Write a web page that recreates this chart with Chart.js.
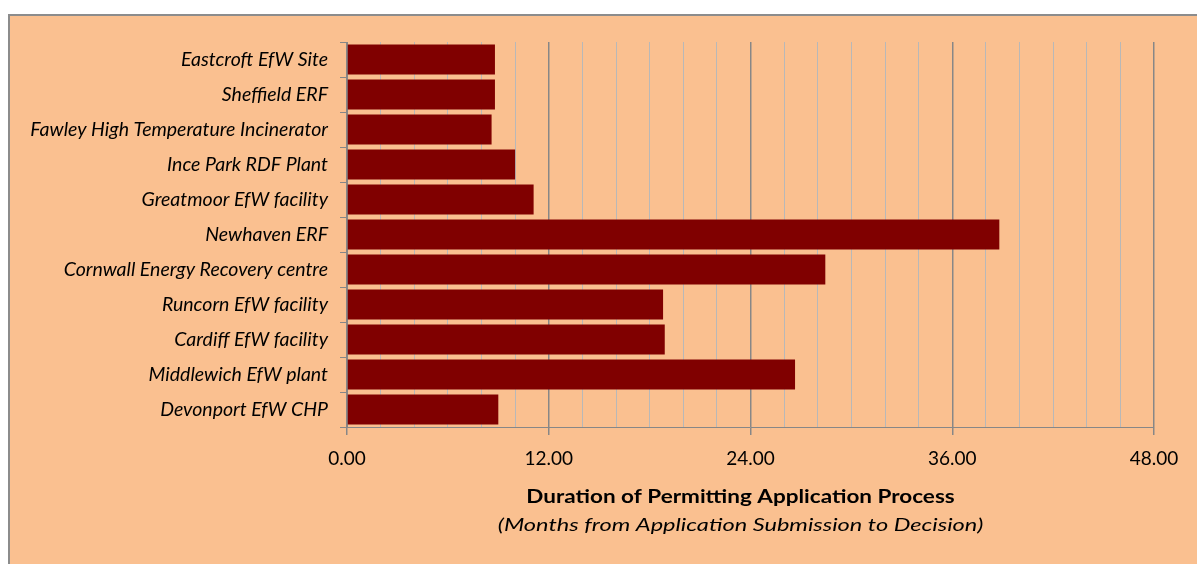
<!DOCTYPE html>
<html>
<head>
<meta charset="utf-8">
<script src="https://cdn.jsdelivr.net/npm/chart.js@4/dist/chart.umd.min.js"></script>
<style>
  html, body { margin: 0; padding: 0; background: #fff; overflow: hidden; }
  #frame {
    position: absolute; left: 8px; top: 14px; width: 1187px; height: 548px;
    border-left: 2px solid #8c8c8c; border-top: 2px solid #8c8c8c;
    background: #fac090;
  }
  #frame canvas { display: block; }
</style>
</head>
<body>
<div id="frame"><canvas id="c" width="1187" height="548"></canvas></div>
<script>
  // permitting duration per facility, months
  var facilities = [
    'Eastcroft EfW Site', 'Sheffield ERF', 'Fawley High Temperature Incinerator',
    'Ince Park RDF Plant', 'Greatmoor EfW facility', 'Newhaven ERF',
    'Cornwall Energy Recovery centre', 'Runcorn EfW facility', 'Cardiff EfW facility',
    'Middlewich EfW plant', 'Devonport EfW CHP'
  ];
  var months = [8.8, 8.8, 8.6, 10.0, 11.1, 38.8, 28.45, 18.8, 18.9, 26.65, 9.0];
  var xMax = 48, minorStep = 2, majorStep = 12;
  var titleMain = 'Duration of Permitting Application Process';
  var titleSub = '(Months from Application Submission to Decision)';

  var FAMILY = "Lato, 'Open Sans', sans-serif";
  var MAJOR = '#878787', MINOR = '#b8b8b8';

  function isMajor(v) { return v % majorStep === 0; }

  // two-line axis title: bold heading + italic subline (source text is drawn wide)
  function wideText(g, s, x, y, sx) {
    g.save();
    g.translate(x, y);
    g.scale(sx, 1);
    g.fillText(s, 0, 0);
    g.restore();
  }
  Chart.register({
    id: 'axisTitle',
    afterDraw: function (c) {
      var a = c.chartArea, g = c.ctx;
      // the original sits a little left of the plot centre
      var cx = (a.left + a.right) / 2 - 10;
      g.save();
      g.fillStyle = '#000';
      g.textAlign = 'center';
      g.textBaseline = 'middle';
      g.font = 'bold 18px ' + FAMILY;
      wideText(g, titleMain, cx, 481, 1.25);
      g.font = 'italic 18px ' + FAMILY;
      wideText(g, titleSub, cx, 509, 1.31);
      g.restore();
    }
  });

  new Chart(document.getElementById('c'), {
    type: 'bar',
    data: {
      labels: facilities,
      datasets: [{
        data: months,
        backgroundColor: '#800000',
        barPercentage: 0.86,
        categoryPercentage: 1.0
      }]
    },
    options: {
      indexAxis: 'y',
      responsive: false,
      animation: false,
      layout: { padding: { top: 26, right: 43, left: 0, bottom: 0 } },
      plugins: { legend: { display: false }, tooltip: { enabled: false } },
      scales: {
        x: {
          min: 0, max: xMax,
          afterFit: function (s) { s.height = 137; },
          border: { color: MAJOR, width: 1 },
          grid: {
            color: function (ctx) { return isMajor(ctx.tick.value) ? MAJOR : MINOR; },
            lineWidth: function (ctx) { return isMajor(ctx.tick.value) ? 1.5 : 1; },
            tickColor: function (ctx) { return isMajor(ctx.tick.value) ? MAJOR : 'rgba(0,0,0,0)'; },
            tickLength: 8
          },
          ticks: {
            stepSize: minorStep,
            autoSkip: false,
            maxRotation: 0,
            padding: 12,
            color: '#000',
            font: { family: FAMILY, size: 19 },
            callback: function (v) { return isMajor(v) ? v.toFixed(2) : ''; }
          }
        },
        y: {
          afterFit: function (s) { s.width = 337; },
          border: { color: MAJOR, width: 1 },
          grid: { drawOnChartArea: false, tickLength: 7, color: MAJOR },
          ticks: {
            padding: 12,
            color: '#000',
            font: { family: FAMILY, size: 19.5, style: 'italic' }
          }
        }
      }
    }
  });
</script>
</body>
</html>
